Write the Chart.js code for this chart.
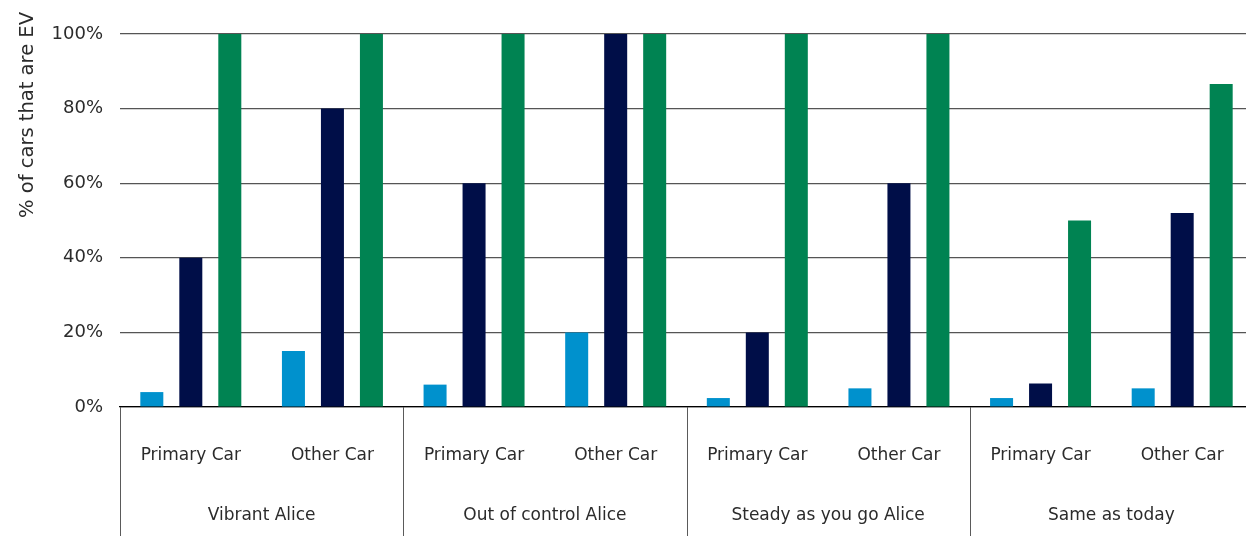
<!DOCTYPE html>
<html>
<head>
<meta charset="utf-8">
<script src="https://cdn.jsdelivr.net/npm/chart.js@4/dist/chart.umd.min.js"></script>
<style>
  html, body { margin: 0; padding: 0; overflow: hidden; background: #fff; }
  canvas { display: block; }
</style>
</head>
<body>
<canvas id="c" width="1253" height="536"></canvas>
<script>
// ---- data ----
const groups = ["Vibrant Alice", "Out of control Alice", "Steady as you go Alice", "Same as today"];
const carTypes = ["Primary Car", "Other Car"];
const categories = groups.flatMap(g => carTypes.map(t => t));
const seriesNames = ["Series 1", "Series 2", "Series 3"];
const series1 = [4, 15, 6, 20, 2.4, 5, 2.4, 5];
const series2 = [40, 80, 60, 100, 20, 60, 6.3, 52];
const series3 = [100, 100, 100, 100, 100, 100, 50, 86.6];
const yTicks = [0, 20, 40, 60, 80, 100];
const yTitle = "% of cars that are EV";

const colors = ["#0091CD", "#000E48", "#008352"];
const FONT = "'DejaVu Sans', sans-serif";
const textColor = "#2b2b2b";

const groupAxisPlugin = {
  id: 'groupAxis',
  afterDraw(chart) {
    const ctx = chart.ctx;
    const x = chart.scales.x;
    const area = chart.chartArea;
    const n = categories.length;
    const step = (x.getPixelForValue(1) - x.getPixelForValue(0));
    ctx.save();
    ctx.strokeStyle = "#5a5a5a";
    ctx.lineWidth = 1;
    for (let g = 0; g <= groups.length; g++) {
      const idx = g * carTypes.length;
      const px = Math.round(x.getPixelForValue(Math.min(idx, n - 1)) + (idx < n ? -step / 2 : step / 2)) + 0.5;
      ctx.beginPath();
      ctx.moveTo(px, area.bottom);
      ctx.lineTo(px, chart.height);
      ctx.stroke();
    }
    // y axis title
    ctx.fillStyle = textColor;
    ctx.font = "19.5px " + FONT;
    ctx.translate(28, 12);
    ctx.rotate(-Math.PI / 2);
    ctx.textAlign = "right";
    ctx.textBaseline = "middle";
    ctx.fillText(yTitle, 0, 0);
    ctx.restore();
  }
};

function noSidePad(s) { s.paddingLeft = 0; s.paddingRight = 0; }

new Chart(document.getElementById('c'), {
  type: 'bar',
  data: {
    labels: categories,
    datasets: [series1, series2, series3].map((d, i) => ({
      label: seriesNames[i],
      data: d,
      backgroundColor: colors[i],
      borderWidth: 0,
      categoryPercentage: 0.826,
      barPercentage: 0.59
    }))
  },
  options: {
    responsive: false,
    animation: false,
    layout: { padding: { top: 34, right: 0, bottom: 11, left: 0 } },
    plugins: { legend: { display: false }, tooltip: { enabled: false } },
    scales: {
      x: {
        type: 'category',
        offset: true,
        afterFit(s) { s.height = 58; noSidePad(s); },
        grid: { display: false, drawTicks: false },
        border: { display: true, color: '#000', width: 1.2 },
        ticks: { color: textColor, font: { family: FONT, size: 17 }, padding: 38, maxRotation: 0, autoSkip: false }
      },
      x2: {
        type: 'category',
        position: 'bottom',
        labels: groups,
        offset: true,
        afterFit(s) { s.height = 60; noSidePad(s); },
        grid: { display: false, drawTicks: false },
        border: { display: false },
        ticks: { color: textColor, font: { family: FONT, size: 17 }, padding: 40, maxRotation: 0, autoSkip: false }
      },
      y: {
        min: 0, max: 100,
        afterFit(s) { s.width = 120; },
        afterBuildTicks(s) { s.ticks = yTicks.map(v => ({ value: v })); },
        grid: { color: '#555', lineWidth: 1.2, drawTicks: false },
        border: { display: false },
        ticks: { color: textColor, font: { family: FONT, size: 18 }, padding: 17, callback: v => v + '%' }
      }
    }
  },
  plugins: [groupAxisPlugin]
});
</script>
</body>
</html>
